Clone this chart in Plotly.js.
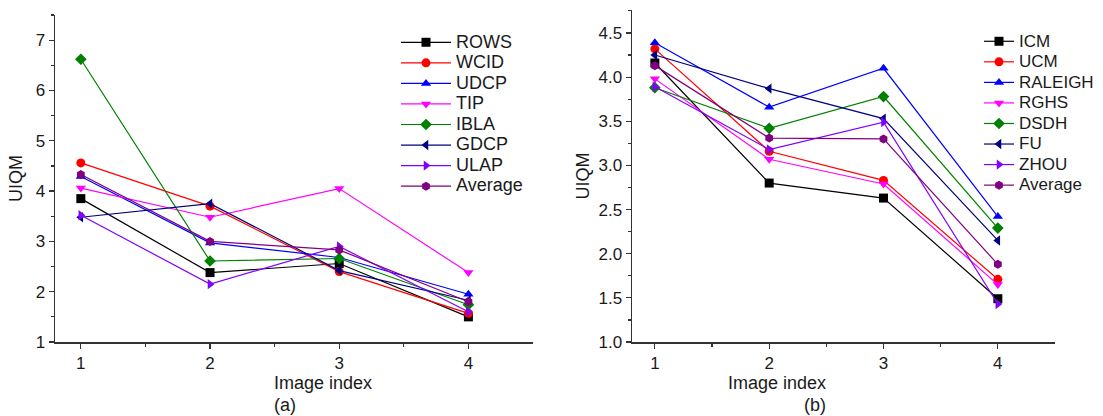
<!DOCTYPE html>
<html>
<head>
<meta charset="utf-8">
<script src="https://cdn.plot.ly/plotly-3.0.1.min.js"></script>
<style>html,body{margin:0;padding:0;background:#fff;}#chart{width:1103px;height:416px;}</style>
</head>
<body>
<div id="chart"></div>
<script>
const imageIndex = [1, 2, 3, 4];

// Panel (a)
const namesA = ["ROWS", "WCID", "UDCP", "TIP", "IBLA", "GDCP", "ULAP", "Average"];
const ROWS    = [3.85, 2.38, 2.56, 1.50];
const WCID    = [4.56, 3.70, 2.40, 1.57];
const UDCP    = [4.29, 2.97, 2.68, 1.95];
const TIP     = [4.06, 3.48, 4.05, 2.38];
const IBLA    = [6.62, 2.61, 2.66, 1.74];
const GDCP    = [3.48, 3.75, 2.42, 1.83];
const ULAP    = [3.52, 2.15, 2.90, 1.60];
const AverageA = [4.33, 3.00, 2.83, 1.80];
const valuesA = [ROWS, WCID, UDCP, TIP, IBLA, GDCP, ULAP, AverageA];

// Panel (b)
const namesB = ["ICM", "UCM", "RALEIGH", "RGHS", "DSDH", "FU", "ZHOU", "Average"];
const ICM     = [4.16, 2.80, 2.63, 1.49];
const UCM     = [4.32, 3.16, 2.83, 1.71];
const RALEIGH = [4.39, 3.66, 4.10, 2.42];
const RGHS    = [3.98, 3.07, 2.79, 1.65];
const DSDH    = [3.88, 3.42, 3.78, 2.29];
const FU      = [4.25, 3.87, 3.53, 2.15];
const ZHOU    = [3.89, 3.18, 3.49, 1.43];
const AverageB = [4.13, 3.31, 3.30, 1.88];
const valuesB = [ICM, UCM, RALEIGH, RGHS, DSDH, FU, ZHOU, AverageB];

const xTitle = "Image index";
const yTitle = "UIQM";
const panelLabels = ["(a)", "(b)"];

const colors = ["#000000", "#ff0000", "#0000ff", "#ff00ff", "#008000", "#000080", "#8000ff", "#800080"];
const symbols = ["square", "circle", "triangle-up", "triangle-down", "diamond", "triangle-left", "triangle-right", "hexagon"];

const legendLabel = (n, s) => '<span style="font-size:' + s + 'px">' + n + '</span>';

const traces = [];
namesA.forEach((n, i) => {
  traces.push({
    x: imageIndex, y: valuesA[i], name: legendLabel(n, 18), type: "scatter", mode: "lines+markers",
    xaxis: "x", yaxis: "y", legend: "legend",
    line: {color: colors[i], width: 1.2},
    marker: {symbol: symbols[i], color: colors[i], size: 9}
  });
});
namesB.forEach((n, i) => {
  traces.push({
    x: imageIndex, y: valuesB[i], name: legendLabel(n, 17), type: "scatter", mode: "lines+markers",
    xaxis: "x2", yaxis: "y2", legend: "legend2",
    line: {color: colors[i], width: 1.2},
    marker: {symbol: symbols[i], color: colors[i], size: 9}
  });
});

const fontFam = "Liberation Sans, Arial, sans-serif";
const titleFont = {family: fontFam, size: 18, color: "#1a1a1a"};
const axisCommon = {
  showline: true, linecolor: "#333", linewidth: 1.5, mirror: false,
  showgrid: false, zeroline: false,
  ticks: "outside", ticklen: 5, tickwidth: 1.2, tickcolor: "#333",
  tickfont: {family: fontFam, size: 17, color: "#1a1a1a"}
};

const layout = {
  width: 1103, height: 416,
  margin: {l: 0, r: 0, t: 0, b: 0},
  paper_bgcolor: "#fff", plot_bgcolor: "#fff",
  font: {family: fontFam, color: "#1a1a1a"},
  xaxis: Object.assign({}, axisCommon, {
    domain: [55/1103, 533/1103], range: [0.8, 4.5], anchor: "y",
    tickvals: [1, 2, 3, 4],
    minor: {tickvals: [1.5, 2.5, 3.5], ticklen: 3, tickcolor: "#333", ticks: "outside"}
  }),
  yaxis: Object.assign({}, axisCommon, {
    domain: [74/416, 401/416], range: [1, 7.5], anchor: "x",
    tickvals: [1, 2, 3, 4, 5, 6, 7],
    minor: {dtick: 0.5, ticklen: 3, tickcolor: "#333", ticks: "outside"},
    title: {text: yTitle, standoff: 8, font: titleFont}
  }),
  xaxis2: Object.assign({}, axisCommon, {
    domain: [632/1103, 1055/1103], range: [0.8, 4.5], anchor: "y2",
    tickvals: [1, 2, 3, 4],
    minor: {tickvals: [1.5, 2.5, 3.5], ticklen: 3, tickcolor: "#333", ticks: "outside"}
  }),
  yaxis2: Object.assign({}, axisCommon, {
    domain: [74/416, 406/416], range: [1, 4.76], anchor: "x2",
    tickvals: [1, 1.5, 2, 2.5, 3, 3.5, 4, 4.5],
    ticktext: ["1.0", "1.5", "2.0", "2.5", "3.0", "3.5", "4.0", "4.5"],
    minor: {dtick: 0.25, ticklen: 3, tickcolor: "#333", ticks: "outside"},
    title: {text: yTitle, standoff: 4, font: titleFont}
  }),
  legend: {
    x: 396/1103, y: 1 - 27/416, xanchor: "left", yanchor: "top",
    bgcolor: "rgba(0,0,0,0)", font: {family: fontFam, size: 13.5, color: "#1a1a1a"},
    tracegroupgap: 0, itemwidth: 50
  },
  legend2: {
    x: 979/1103, y: 1 - 26/416, xanchor: "left", yanchor: "top",
    bgcolor: "rgba(0,0,0,0)", font: {family: fontFam, size: 13.5, color: "#1a1a1a"},
    tracegroupgap: 0, itemwidth: 30
  },
  annotations: [
    {text: xTitle, x: 272/1103, y: 1 - 383/416, xref: "paper", yref: "paper", yanchor: "middle", showarrow: false, font: titleFont},
    {text: xTitle, x: 828/1103, y: 1 - 383/416, xref: "paper", yref: "paper", yanchor: "middle", showarrow: false, font: titleFont},
    {text: panelLabels[0], x: 272/1103, y: 1 - 405/416, xref: "paper", yref: "paper", yanchor: "middle", showarrow: false, font: titleFont},
    {text: panelLabels[1], x: 828/1103, y: 1 - 405/416, xref: "paper", yref: "paper", yanchor: "middle", showarrow: false, font: titleFont}
  ]
};

Plotly.newPlot("chart", traces, layout, {displayModeBar: false, staticPlot: true});
</script>
</body>
</html>
